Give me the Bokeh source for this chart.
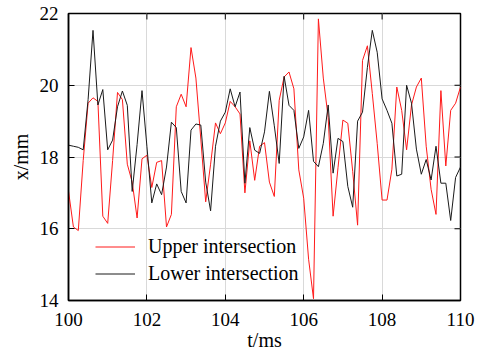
from bokeh.plotting import figure
from bokeh.models import Range1d, FixedTicker, Legend, LegendItem
from bokeh.embed import file_html
from bokeh.resources import INLINE

# ---- data ----
t_ms = [100.0, 100.125, 100.25, 100.375, 100.5, 100.625, 100.75, 100.875,
        101.0, 101.125, 101.25, 101.375, 101.5, 101.625, 101.75, 101.875,
        102.0, 102.125, 102.25, 102.375, 102.5, 102.625, 102.75, 102.875,
        103.0, 103.125, 103.25, 103.375, 103.5, 103.625, 103.75, 103.875,
        104.0, 104.125, 104.25, 104.375, 104.5, 104.625, 104.75, 104.875,
        105.0, 105.125, 105.25, 105.375, 105.5, 105.625, 105.75, 105.875,
        106.0, 106.125, 106.25, 106.375, 106.5, 106.625, 106.75, 106.875,
        107.0, 107.125, 107.25, 107.375, 107.5, 107.625, 107.75, 107.875,
        108.0, 108.125, 108.25, 108.375, 108.5, 108.625, 108.75, 108.875,
        109.0, 109.125, 109.25, 109.375, 109.5, 109.625, 109.75, 109.875,
        110.0]

upper = [17.05, 16.05, 15.95, 17.9, 19.5, 19.65, 19.55, 16.35,
         16.15, 17.9, 19.8, 19.6, 17.8, 17.3, 16.3, 17.95,
         18.05, 17.15, 17.85, 17.9, 16.05, 16.4, 19.4, 19.75,
         19.4, 21.05, 20.2, 18.5, 16.75, 17.8, 18.95, 18.65,
         18.95, 19.55, 19.4, 19.2, 17.0, 18.45, 17.35, 18.3,
         18.4, 17.3, 16.9, 19.58, 20.23, 20.37, 19.9, 17.64,
         16.85, 15.15, 14.05, 21.85, 20.2, 19.1, 16.35, 17.7,
         19.03, 18.94, 17.6, 16.1, 20.69, 21.1, 19.77, 18.38,
         16.8, 16.8, 17.66, 19.95, 19.3, 18.2, 19.45, 19.95,
         20.2, 18.3, 17.1, 16.4, 19.85, 17.75, 19.3, 19.5,
         19.95]

lower = [18.33, 18.3, 18.27, 18.2, 19.6, 21.53, 19.45, 19.88,
         18.2, 18.47, 19.4, 19.84, 19.44, 17.04, 18.35, 19.85,
         18.3, 16.72, 17.25, 16.95, 17.72, 18.97, 18.82, 17.04,
         16.72, 18.75, 18.92, 18.89, 17.3, 16.5, 18.3, 19.0,
         19.25, 19.9, 19.4, 19.81, 17.27, 18.82, 18.19, 18.1,
         18.7, 19.83, 18.87, 17.82, 20.25, 19.44, 19.3, 18.24,
         18.56, 19.3, 17.88, 17.73, 18.38, 19.45, 17.55, 18.52,
         18.43, 17.18, 16.6, 19.0, 19.25, 20.5, 21.53, 20.92,
         19.62, 19.3, 18.94, 17.47, 17.52, 20.0, 19.5, 18.22,
         17.52, 17.93, 17.36, 18.3, 17.27, 17.27, 16.23, 17.43,
         17.72]

x_ticks = [100, 102, 104, 106, 108, 110]
y_ticks = [14, 16, 18, 20, 22]
series_names = ["Upper intersection", "Lower intersection"]
x_title = "t/ms"
y_title = "x/mm"

FONT = "Liberation Serif"
X0, X1, Y0, Y1 = 100, 110, 14, 22

p = figure(width=477, height=353, output_backend="svg", toolbar_location=None,
           x_range=Range1d(X0, X1), y_range=Range1d(Y0, Y1),
           min_border_left=68, min_border_right=17, min_border_top=13,
           min_border_bottom=52)
p.background_fill_color = "white"
p.border_fill_color = "white"
p.outline_line_color = "black"
p.outline_line_width = 1.5
p.outline_line_alpha = 1.0

p.xgrid.ticker = FixedTicker(ticks=x_ticks)
p.ygrid.ticker = FixedTicker(ticks=y_ticks)
p.grid.grid_line_color = "#d9d9d9"
p.grid.grid_line_width = 1

r_up = p.line(t_ms, upper, line_color="#ff1a1a", line_width=1.0)
r_lo = p.line(t_ms, lower, line_color="#1a1a1a", line_width=1.0)

for ax in (p.xaxis[0], p.yaxis[0]):
    ax.major_tick_in = 6
    ax.major_tick_out = 0
    ax.minor_tick_in = 0
    ax.minor_tick_out = 0
    ax.axis_line_color = "black"
    ax.axis_line_width = 1.5
    ax.major_tick_line_color = "black"
    ax.major_label_text_font = FONT
    ax.major_label_text_font_size = "19px"
    ax.major_label_text_color = "black"
    ax.axis_label_text_font = FONT
    ax.axis_label_text_font_size = "20px"
    ax.axis_label_text_font_style = "normal"
    ax.axis_label_text_color = "black"
p.xaxis[0].ticker = FixedTicker(ticks=x_ticks)
p.yaxis[0].ticker = FixedTicker(ticks=y_ticks)
p.xaxis[0].major_label_standoff = 12
p.yaxis[0].major_label_standoff = 10
p.xaxis[0].axis_label = x_title
p.yaxis[0].axis_label = y_title
p.xaxis[0].axis_label_standoff = 0
p.yaxis[0].axis_label_standoff = 5

# inward tick marks on the top and right frame edges (from the tick lists)
tick_len_x = 6 / 39.2   # 6 px in data units (ms)
tick_len_y = 6 / 36.0   # 6 px in data units (mm)
p.segment(x0=x_ticks, y0=[Y1] * len(x_ticks), x1=x_ticks,
          y1=[Y1 - tick_len_y] * len(x_ticks), line_color="black", line_width=1)
p.segment(x0=[X1] * len(y_ticks), y0=y_ticks, x1=[X1 - tick_len_x] * len(y_ticks),
          y1=y_ticks, line_color="black", line_width=1)

# legend
legend = Legend(items=[LegendItem(label=series_names[0], renderers=[r_up]),
                       LegendItem(label=series_names[1], renderers=[r_lo])],
                location=(27, 15))
legend.label_text_font = FONT
legend.label_text_font_size = "20px"
legend.label_text_color = "black"
legend.glyph_width = 40
legend.glyph_height = 21
legend.label_height = 21
legend.label_standoff = 13
legend.spacing = 4
legend.padding = 0
legend.margin = 0
legend.border_line_alpha = 0
legend.background_fill_alpha = 0
p.add_layout(legend, "center")

open("out.html", "w").write(file_html(p, INLINE))
